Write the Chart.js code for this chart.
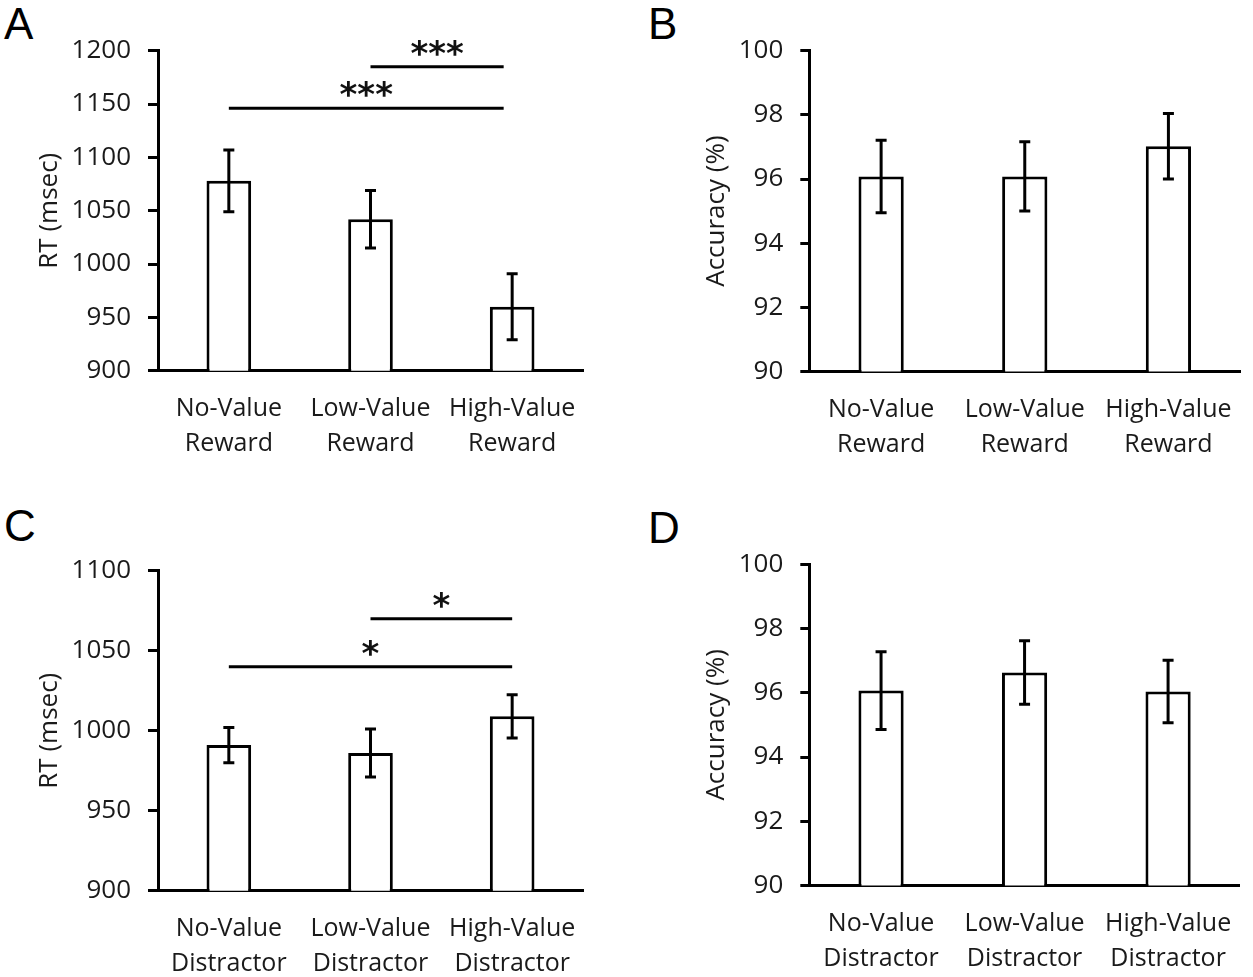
<!DOCTYPE html>
<html>
<head>
<meta charset="utf-8">
<script src="https://cdn.jsdelivr.net/npm/chart.js@4.4.1/dist/chart.umd.min.js"></script>
<style>
  body { margin: 0; background: #fff; }
  #wrap { position: relative; width: 1253px; height: 977px; overflow: hidden; }
  canvas { position: absolute; }
  .letter { position: absolute; font-family: "Liberation Sans", Arial, sans-serif; font-size: 44px; line-height: 1; color: #000; }
</style>
</head>
<body>
<div id="wrap">
  <div class="letter" style="left:4px;top:2px">A</div>
  <div class="letter" style="left:648px;top:2px">B</div>
  <div class="letter" style="left:4px;top:504px">C</div>
  <div class="letter" style="left:648px;top:506px">D</div>
  <canvas id="chartA" width="626" height="488" style="left:0;top:0"></canvas>
  <canvas id="chartB" width="627" height="488" style="left:626px;top:0"></canvas>
  <canvas id="chartC" width="626" height="489" style="left:0;top:488px"></canvas>
  <canvas id="chartD" width="627" height="489" style="left:626px;top:488px"></canvas>
</div>
<script>
const rewardLabels = [['No-Value', 'Reward'], ['Low-Value', 'Reward'], ['High-Value', 'Reward']];
const distractorLabels = [['No-Value', 'Distractor'], ['Low-Value', 'Distractor'], ['High-Value', 'Distractor']];

const rtRewardMeans = [1078, 1042, 960];
const rtRewardErrors = [29, 27, 31];
const accRewardMeans = [96.08, 96.08, 97.02];
const accRewardErrors = [1.13, 1.08, 1.02];

const rtDistractorMeans = [991, 986, 1009];
const rtDistractorErrors = [11, 15, 13.5];
const accDistractorMeans = [96.07, 96.63, 96.04];
const accDistractorErrors = [1.21, 0.99, 0.97];

// significance brackets: category indices and height in axis units
const rtRewardBrackets = [
  { from: 1, to: 1.94, y: 1185, label: '***' },
  { from: 0, to: 1.94, y: 1146, label: '***' }
];
const rtDistractorBrackets = [
  { from: 1, to: 2, y: 1070, label: '*' },
  { from: 0, to: 2, y: 1040, label: '*' }
];

const FONT = '"Open Sans"';

const errorBarPlugin = {
  id: 'errorBars',
  afterDatasetsDraw(chart, args, opts) {
    const ctx = chart.ctx;
    const y = chart.scales.y;
    const means = chart.data.datasets[0].data;
    const bars = chart.getDatasetMeta(0).data;
    ctx.save();
    ctx.strokeStyle = '#000';
    ctx.lineWidth = 3;
    means.forEach((m, i) => {
      const px = bars[i].x;
      const top = y.getPixelForValue(m + opts.errors[i]);
      const bot = y.getPixelForValue(m - opts.errors[i]);
      ctx.beginPath();
      ctx.moveTo(px, top); ctx.lineTo(px, bot);
      ctx.moveTo(px - 5.5, top); ctx.lineTo(px + 5.5, top);
      ctx.moveTo(px - 5.5, bot); ctx.lineTo(px + 5.5, bot);
      ctx.stroke();
    });
    ctx.restore();
  }
};

const bracketPlugin = {
  id: 'brackets',
  afterDatasetsDraw(chart, args, opts) {
    if (!opts.items) return;
    const ctx = chart.ctx;
    const { x, y } = chart.scales;
    ctx.save();
    ctx.strokeStyle = '#000';
    ctx.fillStyle = '#111';
    ctx.lineWidth = 3;
    ctx.font = 'bold 34px "DejaVu Sans"';
    ctx.textAlign = 'center';
    ctx.textBaseline = 'alphabetic';
    opts.items.forEach(b => {
      const x1 = x.getPixelForValue(b.from);
      const x2 = x.getPixelForValue(b.to);
      const py = y.getPixelForValue(b.y);
      ctx.beginPath();
      ctx.moveTo(x1, py); ctx.lineTo(x2, py);
      ctx.stroke();
      ctx.fillText(b.label, (x1 + x2) / 2, py + opts.textOffset);
    });
    ctx.restore();
  }
};

function makePanel(id, labels, means, errors, yMin, yMax, step, yTitle, area, brackets) {
  const canvas = document.getElementById(id);
  const W = canvas.width, H = canvas.height;
  return new Chart(canvas, {
    type: 'bar',
    data: {
      labels: labels,
      datasets: [{
        data: means,
        backgroundColor: '#fff',
        borderColor: '#000',
        borderWidth: 3,
        barPercentage: 0.315,
        categoryPercentage: 1
      }]
    },
    options: {
      responsive: false,
      animation: false,
      layout: { padding: { left: 0, top: area.top, right: W - area.right, bottom: 0 } },
      plugins: {
        legend: { display: false },
        tooltip: { enabled: false },
        errorBars: { errors: errors },
        brackets: { items: brackets, textOffset: -2 }
      },
      scales: {
        x: {
          grid: { display: false, drawTicks: false },
          border: { display: true, color: '#000', width: 3 },
          ticks: {
            color: '#1a1a1a',
            font: { family: FONT, size: 25, lineHeight: 1.4 },
            padding: 21,
            maxRotation: 0,
            autoSkip: false
          },
          afterFit(s) { s.height = H - area.bottom; }
        },
        y: {
          min: yMin,
          max: yMax,
          ticks: {
            stepSize: step,
            color: '#1a1a1a',
            font: { family: FONT, size: 26 },
            padding: 17,
            callback: v => String(v)
          },
          grid: { drawOnChartArea: false, drawTicks: true, tickLength: area.tick, tickColor: '#000', tickWidth: 3 },
          border: { color: '#000', width: 3 },
          title: {
            display: true,
            text: yTitle,
            color: '#1a1a1a',
            font: { family: FONT, size: 26 },
            padding: { top: area.titlePad, bottom: 0 }
          },
          afterFit(s) { s.width = area.left; }
        }
      }
    },
    plugins: [errorBarPlugin, bracketPlugin]
  });
}

makePanel('chartA', rewardLabels, rtRewardMeans, rtRewardErrors, 900, 1200, 50, 'RT (msec)',
  { left: 158, top: 50.7, right: 583, bottom: 370.7, tick: 10, titlePad: 34 }, rtRewardBrackets);
makePanel('chartB', rewardLabels, accRewardMeans, accRewardErrors, 90, 100, 2, 'Accuracy (%)',
  { left: 183.3, top: 50.7, right: 624, bottom: 371.5, tick: 9, titlePad: 75 }, null);
makePanel('chartC', distractorLabels, rtDistractorMeans, rtDistractorErrors, 900, 1100, 50, 'RT (msec)',
  { left: 158, top: 82.7, right: 583, bottom: 402.7, tick: 10, titlePad: 34 }, rtDistractorBrackets);
makePanel('chartD', distractorLabels, accDistractorMeans, accDistractorErrors, 90, 100, 2, 'Accuracy (%)',
  { left: 183.3, top: 76.3, right: 622, bottom: 397.5, tick: 9, titlePad: 75 }, null);
</script>
</body>
</html>
